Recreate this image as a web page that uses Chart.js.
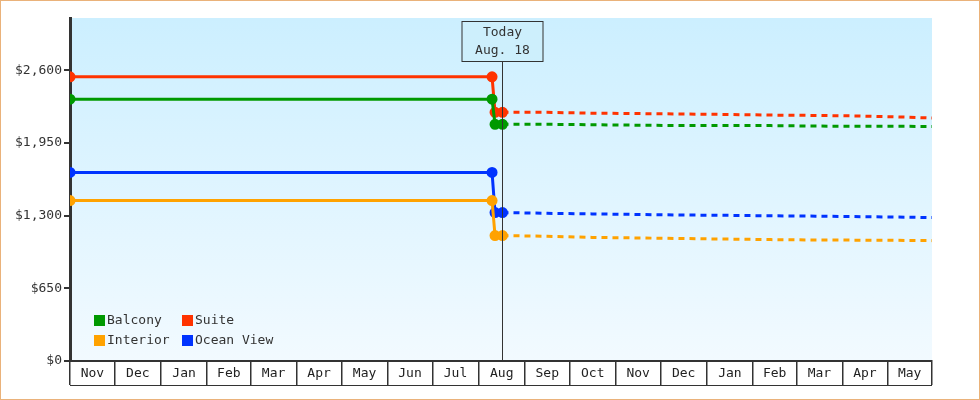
<!DOCTYPE html>
<html><head><meta charset="utf-8">
<script src="https://cdn.jsdelivr.net/npm/chart.js@4"></script>
<style>
html,body{margin:0;padding:0;background:#fff;}
#wrap{position:absolute;left:0;top:0;width:978px;height:398px;border:1px solid #eab27a;}
canvas{display:block;}
</style></head><body>
<div id="wrap"><canvas id="c" width="978" height="398"></canvas></div>
<script>
const monthNames = ["Nov","Dec","Jan","Feb","Mar","Apr","May","Jun","Jul","Aug","Sep","Oct","Nov","Dec","Jan","Feb","Mar","Apr","May"];
const monthStarts = [0,30,61,92,121,152,182,213,243,274,305,335,366,396,427,458,487,518,548,578];
const todayDay = 290;
const todayLabel = ["Today","Aug. 18"];
const seriesNames = ["Balcony","Suite","Interior","Ocean View"];
const seriesColors = ["#009900","#ff3300","#ffa200","#0033ff"];
const days = [0,283,285,290,320,350,380,410,440,470,500,530,560,578];
const balcony  = [2340,2340,2116,2116,2116,2112,2108,2104,2104,2104,2100,2098,2098,2096];
const suite    = [2540,2540,2223,2223,2223,2215,2212,2208,2204,2198,2195,2190,2180,2172];
const interior = [1434,1434,1121,1121,1115,1105,1100,1095,1090,1085,1082,1080,1078,1076];
const ocean    = [1686,1686,1327,1327,1320,1315,1310,1305,1302,1298,1295,1290,1286,1282];
const yTicks = [0,650,1300,1950,2600];
const FONT = "'DejaVu Sans Mono', monospace";
const values = [balcony,suite,interior,ocean];

const datasets = values.map((v,i)=>({
  label: seriesNames[i],
  data: days.map((d,j)=>({x:d,y:v[j]})),
  borderColor: seriesColors[i], backgroundColor: seriesColors[i],
  borderWidth: 3, pointStyle:'circle',
  pointRadius: days.map((d,j)=> j<4 ? 4 : 0),
  pointHoverRadius: 0,
  segment:{ borderDash: ctx => ctx.p0.parsed.x >= todayDay ? [6,5] : undefined },
  tension:0
}));

const xTickVals = [];
monthStarts.forEach((s,i)=>{ xTickVals.push({value:s, b:true}); if(i<monthNames.length) xTickVals.push({value:(s+monthStarts[i+1])/2, b:false, label:monthNames[i]}); });

const bgPlugin = {
  id:'bg',
  beforeDraw(chart){
    const {ctx, chartArea:a} = chart;
    const g = ctx.createLinearGradient(0,a.top,0,a.bottom);
    g.addColorStop(0,'#ccefff'); g.addColorStop(1,'#f2faff');
    ctx.save(); ctx.fillStyle=g; ctx.fillRect(a.left,a.top,a.right-a.left,a.bottom-a.top); ctx.restore();
  },
  afterDatasetsDraw(chart){
    const {ctx, chartArea:a, scales} = chart;
    const x = Math.round(scales.x.getPixelForValue(todayDay))+0.5;
    ctx.save();
    ctx.strokeStyle='#333'; ctx.lineWidth=1;
    ctx.beginPath(); ctx.moveTo(x,60); ctx.lineTo(x,a.bottom); ctx.stroke();
    ctx.fillStyle='#cdeffc'; ctx.fillRect(x-40.5,20.5,81,40);
    ctx.strokeRect(x-40.5,20.5,81,40);
    ctx.fillStyle='#333'; ctx.font='13px '+FONT; ctx.textAlign='center'; ctx.textBaseline='middle';
    ctx.fillText(todayLabel[0],x,32); ctx.fillText(todayLabel[1],x,50);
    // bottom line of month boxes
    ctx.beginPath(); ctx.moveTo(a.left,a.bottom+24.5); ctx.lineTo(a.right,a.bottom+24.5); ctx.stroke();
    // legend
    ctx.textAlign='left';
    const pos=[[93,320],[181,320],[93,340],[181,340]];
    seriesNames.forEach((n,i)=>{
      ctx.fillStyle=seriesColors[i]; ctx.fillRect(pos[i][0],pos[i][1]-6,11,11);
      ctx.fillStyle='#333'; ctx.fillText(n,pos[i][0]+13,pos[i][1]);
    });
    ctx.restore();
  }
};

new Chart(document.getElementById('c'),{
  type:'line',
  data:{datasets},
  options:{
    responsive:false, animation:false,
    layout:{padding:{top:17,right:47,bottom:0,left:0}},
    plugins:{legend:{display:false},tooltip:{enabled:false}},
    scales:{
      x:{type:'linear',min:0,max:578,
        afterBuildTicks(s){ s.ticks = xTickVals.map(t=>({value:t.value})); },
        afterFit(s){ s.height=38; },
        border:{display:true,color:'#333',width:2},
        grid:{drawOnChartArea:false,tickLength:24,
          color: c => (xTickVals[c.index] && xTickVals[c.index].b) ? '#333' : 'rgba(0,0,0,0)', lineWidth:1.5},
        ticks:{autoSkip:false,maxRotation:0,padding:-19,color:'#222',font:{family:FONT,size:13},
          callback:(v,i)=> xTickVals[i] && !xTickVals[i].b ? xTickVals[i].label : ''}
      },
      y:{min:0,max:3066,
        afterBuildTicks(s){ s.ticks = yTicks.map(v=>({value:v})); },
        afterFit(s){ s.width=69; },
        border:{display:true,color:'#333',width:3},
        grid:{drawOnChartArea:false,tickLength:6,color:'#333',lineWidth:2},
        ticks:{color:'#333',padding:2,font:{family:FONT,size:13},
          callback:v=>'$'+v.toLocaleString('en-US')}
      }
    }
  },
  plugins:[bgPlugin]
});
</script></body></html>
